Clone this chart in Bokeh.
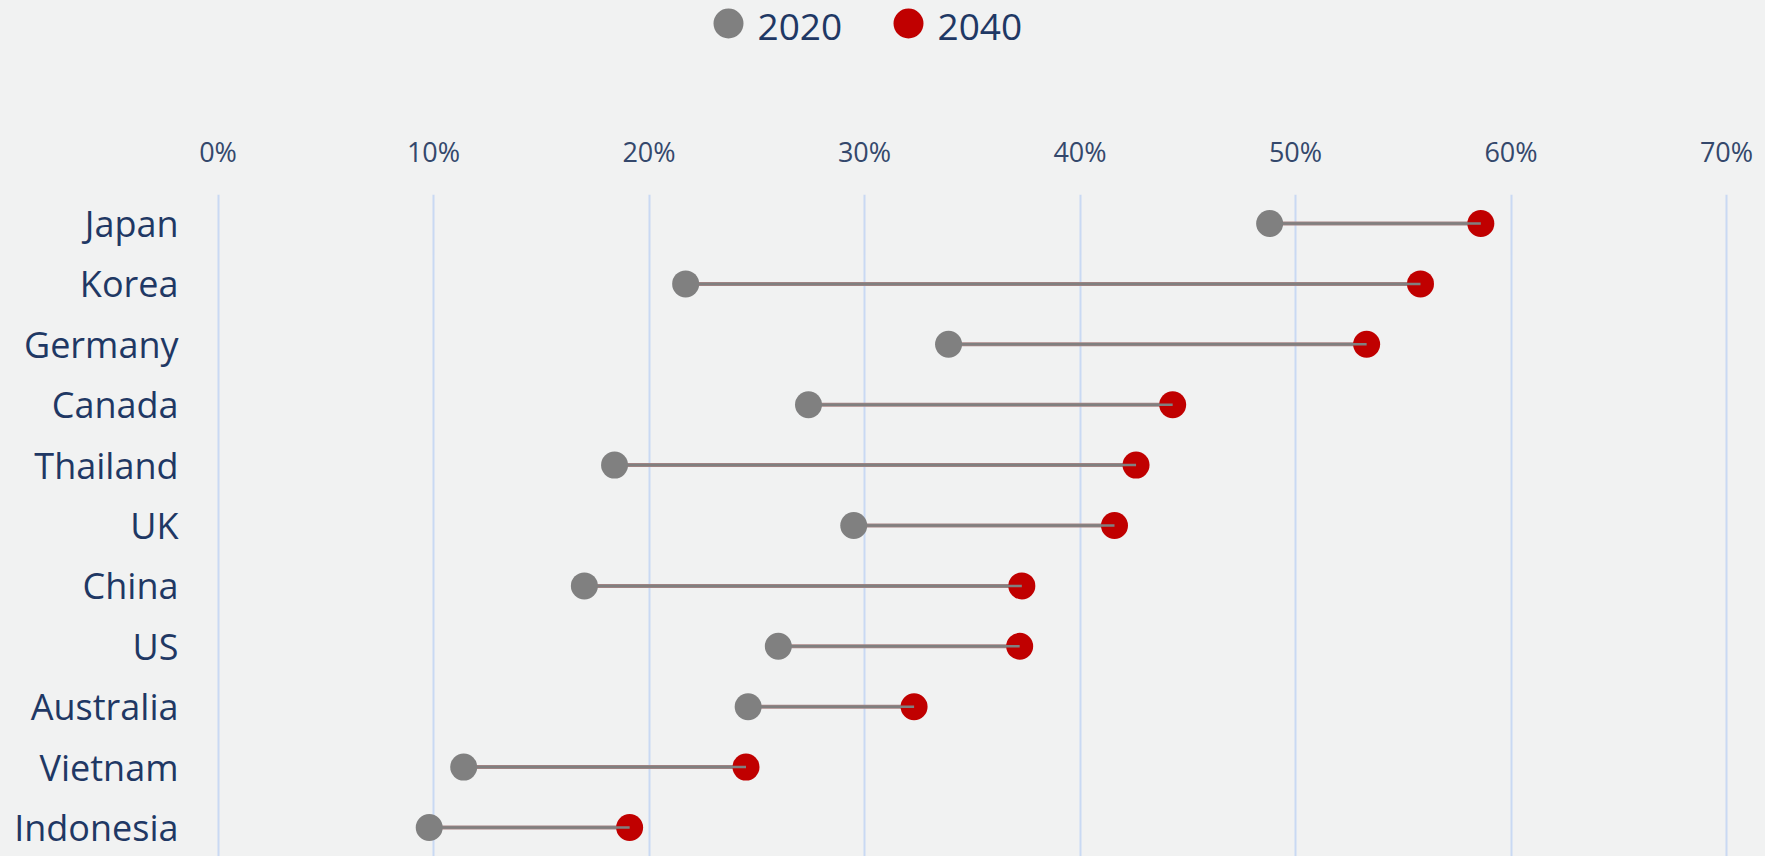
from bokeh.plotting import figure
from bokeh.models import ColumnDataSource, Range1d, FixedTicker, NumeralTickFormatter
from bokeh.core.properties import value
from bokeh.layouts import column
from bokeh.embed import file_html
from bokeh.resources import INLINE

# ---------------- data ----------------
countries = ["Japan", "Korea", "Germany", "Canada", "Thailand", "UK",
             "China", "US", "Australia", "Vietnam", "Indonesia"]
share_2020 = [0.488, 0.217, 0.339, 0.274, 0.184, 0.295, 0.170, 0.260, 0.246, 0.114, 0.098]
share_2040 = [0.586, 0.558, 0.533, 0.443, 0.426, 0.416, 0.373, 0.372, 0.323, 0.245, 0.191]
series_names = ["2020", "2040"]
x_ticks = [0.0, 0.1, 0.2, 0.3, 0.4, 0.5, 0.6, 0.7]

# ---------------- styles ----------------
BG = "#f1f2f2"
GRAY = "#808080"
RED = "#c00000"
LINK = "#a88484"
NAVY = "#1f3864"
TICK = "#34486c"
GRID = "#c9d9f3"
FONT = "Open Sans"

W = 1765
H_LEG = 68
H_MAIN = 788
MB_LEFT = 210
MB_RIGHT = 25

n = len(countries)
ypos = [n - 1 - i for i in range(n)]
src = ColumnDataSource(dict(country=countries, y=ypos, v20=share_2020, v40=share_2040))

# ---------------- main figure ----------------
p = figure(width=W, height=H_MAIN, output_backend="svg", toolbar_location=None,
           x_range=Range1d(-0.0035, 0.7065), y_range=Range1d(-0.48, n - 1 + 0.48),
           x_axis_location="above",
           min_border_left=MB_LEFT, min_border_right=MB_RIGHT,
           min_border_top=126, min_border_bottom=0)
p.background_fill_color = BG
p.border_fill_color = BG
p.outline_line_color = None

p.segment(x0="v20", y0="y", x1="v40", y1="y", source=src, line_color=LINK, line_width=4)
p.scatter(x="v40", y="y", source=src, size=27, fill_color=RED, line_color=None)
p.segment(x0="v20", y0="y", x1="v40", y1="y", source=src, line_color=GRAY, line_width=2.5)
p.scatter(x="v20", y="y", source=src, size=27, fill_color=GRAY, line_color=None)

xa = p.xaxis[0]
xa.ticker = FixedTicker(ticks=x_ticks)
xa.formatter = NumeralTickFormatter(format="0%")
xa.axis_line_color = None
xa.major_tick_line_color = None
xa.minor_tick_line_color = None
xa.major_tick_out = 0
xa.major_tick_in = 0
xa.major_label_standoff = 25
xa.major_label_text_font = FONT
xa.major_label_text_font_size = "27px"
xa.major_label_text_color = TICK

ya = p.yaxis[0]
ya.ticker = FixedTicker(ticks=ypos)
ya.major_label_overrides = {y: c for y, c in zip(ypos, countries)}
ya.axis_line_color = None
ya.major_tick_line_color = None
ya.minor_tick_line_color = None
ya.major_tick_out = 0
ya.major_tick_in = 0
ya.major_label_standoff = 32
ya.major_label_text_font = FONT
ya.major_label_text_font_size = "36px"
ya.major_label_text_color = NAVY

p.xgrid.ticker = FixedTicker(ticks=x_ticks)
p.xgrid.grid_line_color = GRID
p.xgrid.grid_line_width = 2
p.ygrid.grid_line_color = None

# ---------------- legend (drawn in its own strip, pixel units) ----------------
lg = figure(width=W, height=H_LEG, output_backend="svg", toolbar_location=None,
            x_range=Range1d(MB_LEFT, W - MB_RIGHT), y_range=Range1d(H_LEG, 0),
            x_axis_location=None, y_axis_location=None,
            min_border_left=MB_LEFT, min_border_right=MB_RIGHT,
            min_border_top=0, min_border_bottom=0)
lg.background_fill_color = BG
lg.border_fill_color = BG
lg.outline_line_color = None
lg.grid.visible = False

LEG_X0 = 728      # centre of first legend marker
LEG_STEP = 180    # distance between legend items
LEG_Y = 23
marker_x = [LEG_X0 + i * LEG_STEP for i in range(len(series_names))]
leg_src = ColumnDataSource(dict(
    mx=marker_x,
    my=[LEG_Y] * len(series_names),
    tx=[m + 29 for m in marker_x],
    ty=[LEG_Y + 3] * len(series_names),
    label=series_names,
    color=[GRAY, RED],
))
lg.scatter(x="mx", y="my", source=leg_src, size=30, fill_color="color", line_color=None)
lg.text(x="tx", y="ty", text="label", source=leg_src, text_font=value(FONT),
        text_font_size="37px", text_color=NAVY, text_baseline="middle", text_align="left")

layout = column(lg, p, spacing=0, styles={"background-color": BG})

TEMPLATE = "{% block preamble %}<style>html, body { background: " + BG + "; }</style>{% endblock %}"
open("out.html", "w").write(file_html(layout, INLINE, template=TEMPLATE))
